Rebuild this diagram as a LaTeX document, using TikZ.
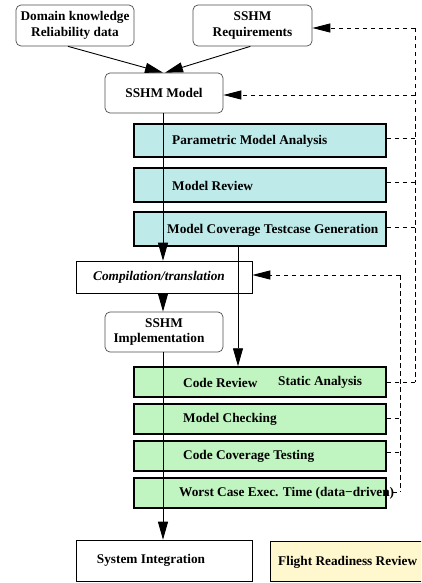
\documentclass[tikz,border=0pt]{standalone}
\usepackage{fontspec}
\setmainfont{Liberation Serif}
\usetikzlibrary{arrows.meta}
\definecolor{modelfill}{RGB}{190,234,234}
\definecolor{codefill}{RGB}{192,244,192}
\definecolor{reviewfill}{RGB}{255,247,205}
\begin{document}
\begin{tikzpicture}[x=1pt,y=-1pt,
  font=\bfseries\fontsize{13.3}{15.5}\selectfont,
  softbox/.style={draw=black!70, line width=0.7pt, rounded corners=5pt, align=center, inner sep=0pt},
  plainbox/.style={draw=black, line width=0.6pt, inner sep=0pt, align=center},
  phase/.style={draw=black, line width=1.5pt, minimum width=252pt, inner sep=0pt},
  mphase/.style={phase, fill=modelfill, minimum height=33pt},
  cphase/.style={phase, fill=codefill, minimum height=30pt},
  lbl/.style={anchor=west, inner sep=0pt},
  flow/.style={line width=0.9pt, -{Triangle[length=18pt,width=10pt]}},
  feedback/.style={line width=0.9pt, dash pattern=on 4.5pt off 3.5pt},
  fbarrow/.style={feedback, -{Triangle[length=18pt,width=9pt]}}
]
\useasboundingbox (0,0) rectangle (421,583);
\clip (0,0) rectangle (421,583);

% inputs and model
\node[softbox, minimum width=118pt, minimum height=41pt] (dom) at (75,25.5) {Domain knowledge\\Reliability data};
\node[softbox, minimum width=119pt, minimum height=41pt] (req) at (252.5,25.5) {SSHM\\Requirements};
\node[softbox, minimum width=118pt, minimum height=40pt] (model) at (164,93) {SSHM Model};

% model-level verification
\node[mphase] (pma) at (260,140.5) {};
\node[lbl] (pmat) at (172,141) {Parametric Model Analysis};
\node[mphase, minimum height=34pt] (mr) at (260,185) {};
\node[lbl] (mrt) at (172,185.5) {Model Review};
\node[mphase, minimum height=34pt] (mctg) at (260,229) {};
\node[lbl] (mctgt) at (167,230) {Model Coverage Testcase Generation};

% code generation
\node[plainbox, minimum width=176pt, minimum height=32pt] (comp) at (164,277) {\itshape Compilation/translation\hspace*{10pt}};
\node[softbox, minimum width=118pt, minimum height=40pt] (impl) at (164,332) {SSHM\\Implementation\hspace*{10pt}};

% code-level verification
\node[cphase] (cr) at (260,382) {};
\node[lbl] (crt) at (183,382.5) {Code Review};
\node[lbl] (sat) at (278,382.5) {Static Analysis};
\node[cphase] (mc) at (260,419) {};
\node[lbl] (mct) at (183,419.5) {Model Checking};
\node[cphase] (cct) at (260,456) {};
\node[lbl] (cctt) at (183,456.5) {Code Coverage Testing};
\node[cphase] (wcet) at (260,493) {};
\node[lbl] (wcett) at (179,493) {Worst Case Exec. Time (data−driven)};

% final stages
\node[plainbox, minimum width=176pt, minimum height=41pt] (sys) at (164,560.5) {System Integration\hspace*{26pt}};
\node[plainbox, fill=reviewfill, minimum width=160pt, minimum height=40pt, anchor=west] (frr) at (270,561) {};
\node[lbl] (frrt) at (278,562) {Flight Readiness Review};

% main flow
\draw[flow] ([xshift=-7pt]dom.south) -- ([xshift=-1pt]model.north);
\draw[flow] ([xshift=-2pt]req.south east) ++(-60pt,0) -- ([xshift=1pt]model.north);
\draw[flow] ([xshift=-1pt]model.south) -- ([xshift=-1pt]comp.north);
\draw[flow] (mctg.south -| 238,0) -- (cr.north -| 238,0);
\draw[flow] ([xshift=-1pt]comp.south) -- ([xshift=-1pt]impl.north);
\draw[flow] ([xshift=-1pt]impl.south) -- ([xshift=-1pt]sys.north);

% feedback to model and requirements
\coordinate (otop) at (415,28);
\coordinate (obot) at (415,382);
\draw[feedback] (otop) -- (obot);
\draw[fbarrow] (otop) -- (req.east |- otop);
\draw[fbarrow] (415,95) -- (model.east |- 0,95);
\draw[feedback] (pma.east |- 0,138) -- (415,138);
\draw[feedback] (mr.east |- 0,182) -- (415,182);
\draw[feedback] (mctg.east |- 0,227) -- (415,227);
\draw[feedback] (cr.east) -- (obot);

% feedback to compilation
\coordinate (itop) at (400,275);
\coordinate (ibot) at (400,492);
\draw[feedback] (itop) -- (ibot);
\draw[fbarrow] (itop) -- (comp.east |- itop);
\draw[feedback] (mc.east |- 0,418) -- (400,418);
\draw[feedback] (cct.east |- 0,452) -- (400,452);
\draw[feedback] (392,492) -- (ibot);
\end{tikzpicture}
\end{document}
